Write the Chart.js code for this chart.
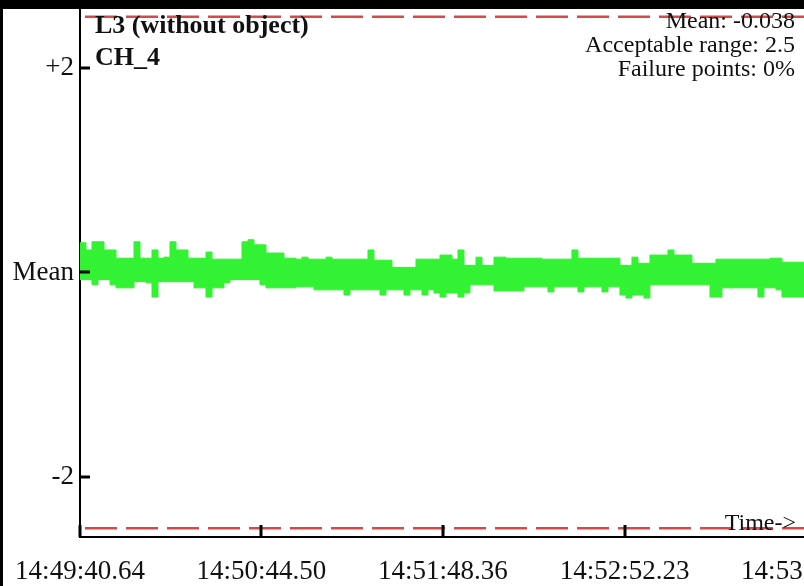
<!DOCTYPE html>
<html>
<head>
<meta charset="utf-8">
<title>L3 (without object) CH_4</title>
<script src="https://cdn.jsdelivr.net/npm/chart.js@4.4.1/dist/chart.umd.min.js"></script>
<style>
  html, body { margin: 0; padding: 0; background: #fff; overflow: hidden; }
  #wrap { position: relative; width: 900px; height: 586px; }
</style>
</head>
<body>
<div id="wrap"><canvas id="chart"></canvas></div>
<script>
// ── Data ──────────────────────────────────────────────────────────────────
// seconds after 14:49:40.64, one sample every ~2.11 s
const sampleSec = 2.111;

// upper / lower edge of the green signal band (offset from mean)
const bandUpper = [
  0.20, 0.29, 0.22, 0.30, 0.30, 0.22, 0.22, 0.14, 0.14, 0.14,
  0.30, 0.14, 0.14, 0.22, 0.14, 0.15, 0.30, 0.22, 0.22, 0.14,
  0.14, 0.14, 0.20, 0.13, 0.13, 0.13, 0.13, 0.13, 0.30, 0.32,
  0.27, 0.27, 0.19, 0.19, 0.19, 0.14, 0.14, 0.13, 0.15, 0.13,
  0.13, 0.13, 0.15, 0.13, 0.13, 0.13, 0.13, 0.13, 0.13, 0.22,
  0.12, 0.12, 0.12, 0.05, 0.05, 0.05, 0.05, 0.13, 0.13, 0.13,
  0.13, 0.17, 0.17, 0.13, 0.22, 0.07, 0.07, 0.15, 0.07, 0.07,
  0.15, 0.15, 0.14, 0.14, 0.14, 0.14, 0.14, 0.14, 0.13, 0.13,
  0.13, 0.13, 0.13, 0.22, 0.14, 0.14, 0.14, 0.14, 0.14, 0.14,
  0.14, 0.07, 0.07, 0.15, 0.09, 0.09, 0.17, 0.17, 0.17, 0.22,
  0.17, 0.17, 0.17, 0.09, 0.09, 0.09, 0.09, 0.13, 0.13, 0.13,
  0.13, 0.13, 0.13, 0.13, 0.13, 0.13, 0.14, 0.14, 0.10, 0.10,
  0.10, 0.10
];
const bandLower = [
  -0.07, -0.07, -0.07, -0.12, -0.07, -0.07, -0.12, -0.15, -0.15, -0.15,
  -0.09, -0.09, -0.10, -0.24, -0.09, -0.09, -0.09, -0.09, -0.09, -0.09,
  -0.15, -0.15, -0.24, -0.15, -0.15, -0.10, -0.07, -0.07, -0.07, -0.07,
  -0.07, -0.12, -0.15, -0.15, -0.15, -0.15, -0.15, -0.14, -0.14, -0.14,
  -0.17, -0.17, -0.17, -0.17, -0.17, -0.22, -0.17, -0.17, -0.17, -0.17,
  -0.17, -0.22, -0.17, -0.17, -0.17, -0.22, -0.17, -0.17, -0.22, -0.17,
  -0.20, -0.24, -0.20, -0.20, -0.24, -0.20, -0.12, -0.12, -0.12, -0.12,
  -0.18, -0.18, -0.18, -0.18, -0.18, -0.14, -0.14, -0.14, -0.14, -0.19,
  -0.14, -0.14, -0.14, -0.14, -0.19, -0.14, -0.14, -0.14, -0.19, -0.14,
  -0.14, -0.22, -0.25, -0.22, -0.22, -0.25, -0.12, -0.12, -0.12, -0.12,
  -0.12, -0.12, -0.12, -0.12, -0.12, -0.12, -0.24, -0.24, -0.15, -0.15,
  -0.15, -0.15, -0.15, -0.15, -0.24, -0.15, -0.15, -0.17, -0.24, -0.24,
  -0.24, -0.24
];

const acceptRange = 2.5;   // red dashed limits at +/- this
const meanLevel   = 0;     // plotted relative to mean (-0.038)

const xTickSecs   = [0, 63.86, 127.72, 191.59, 255.45];
const xTickLabels = ['14:49:40.64', '14:50:44.50', '14:51:48.36', '14:52:52.23', '14:53:56.09'];
const yTickVals   = [-2, 0, 2];
const yTickLabels = ['-2', 'Mean', '+2'];

const titleLines = ['L3 (without object)', 'CH_4'];
const statLines  = ['Mean: -0.038', 'Acceptable range: 2.5', 'Failure points: 0%'];
const axisNote   = 'Time->';

// ── Helpers ───────────────────────────────────────────────────────────────
const SERIF = '"Liberation Serif", "Times New Roman", serif';
const GREEN = '#33f233';
const RED   = '#d94848';

const xEnd = xTickSecs[xTickSecs.length - 1];
const toPts = arr => arr.map((v, i) => ({ x: i * sampleSec, y: v }));
const flat  = v => [{ x: 0, y: v }, { x: xEnd, y: v }];

// ── Decorations: inward ticks, captions, black frame ─────────────────────
const decorPlugin = {
  id: 'decor',
  afterDraw(chart) {
    const ctx = chart.ctx;
    const { left, top, bottom } = chart.chartArea;
    const xs = chart.scales.x, ys = chart.scales.y;
    ctx.save();

    // tick marks pointing into the plot
    ctx.strokeStyle = '#000';
    ctx.lineWidth = 3;
    xTickSecs.forEach(v => {
      const px = Math.round(xs.getPixelForValue(v));
      ctx.beginPath(); ctx.moveTo(px, bottom - 12); ctx.lineTo(px, bottom); ctx.stroke();
    });
    yTickVals.forEach(v => {
      const py = Math.round(ys.getPixelForValue(v));
      ctx.beginPath(); ctx.moveTo(left, py); ctx.lineTo(left + 10, py); ctx.stroke();
    });

    // title block (top left)
    ctx.fillStyle = '#111';
    ctx.textAlign = 'left';
    ctx.textBaseline = 'alphabetic';
    ctx.font = 'bold 26px ' + SERIF;
    titleLines.forEach((t, i) => ctx.fillText(t, left + 15, top + 23 + i * 32));

    // stats block (top right, inside window)
    ctx.font = '24px ' + SERIF;
    ctx.textAlign = 'right';
    statLines.forEach((t, i) => ctx.fillText(t, 795, top + 18 + i * 24));

    // axis note
    ctx.font = '24px ' + SERIF;
    ctx.fillText(axisNote, 796, bottom - 7);

    // black frame edges
    ctx.fillStyle = '#000';
    ctx.fillRect(0, 0, chart.width, 9);
    ctx.fillRect(0, 0, 3, chart.height);
    ctx.restore();
  }
};

// ── Chart ─────────────────────────────────────────────────────────────────
new Chart(document.getElementById('chart').getContext('2d'), {
  type: 'line',
  data: {
    datasets: [
      {
        label: 'upper limit',
        data: flat(acceptRange),
        borderColor: RED, borderWidth: 2.5,
        borderDash: [32, 9], borderDashOffset: 36,
        pointRadius: 0, order: 0,
      },
      {
        label: 'lower limit',
        data: flat(-acceptRange),
        borderColor: RED, borderWidth: 2.5,
        borderDash: [32, 9], borderDashOffset: 36,
        pointRadius: 0, order: 0,
      },
      {
        label: 'signal high',
        data: toPts(bandUpper),
        borderColor: GREEN, borderWidth: 1,
        stepped: 'after', pointRadius: 0, fill: false, order: 1,
      },
      {
        label: 'signal low',
        data: toPts(bandLower),
        borderColor: GREEN, borderWidth: 1, backgroundColor: GREEN,
        stepped: 'after', pointRadius: 0, fill: '-1', order: 1,
      },
      {
        label: 'mean',
        data: flat(meanLevel),
        borderColor: '#000', borderWidth: 2,
        borderDash: [5, 5], pointRadius: 0, order: 2,
      },
    ]
  },
  options: {
    responsive: true,
    maintainAspectRatio: false,
    animation: false,
    events: [],
    layout: { padding: { top: 10, right: 94, left: 0, bottom: 0 } },
    plugins: {
      legend: { display: false },
      tooltip: { enabled: false },
    },
    scales: {
      x: {
        type: 'linear',
        min: 0, max: xEnd,
        afterBuildTicks: s => { s.ticks = xTickSecs.map(v => ({ value: v })); },
        afterFit: s => { s.height = 49; s.paddingLeft = 0; s.paddingRight = 0; },
        grid: { drawOnChartArea: false, drawTicks: false },
        border: { display: true, color: '#000', width: 2 },
        ticks: {
          autoSkip: false, maxRotation: 0, padding: 19,
          color: '#111', font: { family: SERIF, size: 27 },
          callback: (v, i) => xTickLabels[i],
        },
      },
      y: {
        min: -2.586, max: 2.566,
        afterBuildTicks: s => { s.ticks = yTickVals.map(v => ({ value: v })); },
        afterFit: s => { s.width = 80; s.paddingTop = 0; s.paddingBottom = 0; },
        grid: { drawOnChartArea: false, drawTicks: false },
        border: { display: true, color: '#000', width: 2 },
        ticks: {
          padding: 6,
          color: '#111', font: { family: SERIF, size: 27 },
          callback: (v, i) => yTickLabels[i],
        },
      },
    },
  },
  plugins: [decorPlugin],
});
</script>
</body>
</html>
